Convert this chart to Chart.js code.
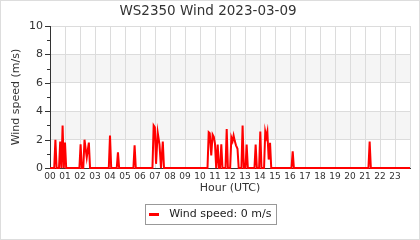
<!DOCTYPE html>
<html>
<head>
<meta charset="utf-8">
<script src="https://cdn.jsdelivr.net/npm/chart.js@4/dist/chart.umd.min.js"></script>
<style>
  html, body { margin: 0; padding: 0; background: #fff; }
  #wrap { width: 420px; height: 240px; }
</style>
</head>
<body>
<div id="wrap"><canvas id="myChart" width="420" height="240"></canvas></div>
<script>
// wind samples (decimal hour UTC) and speeds in m/s
const hours = [
  0, 0.28, 0.36, 0.44, 0.6, 0.68, 0.76, 0.84, 0.92, 1.0, 1.08,
  1.96, 2.04, 2.12, 2.22, 2.3, 2.37, 2.45, 2.59, 2.67,
  3.92, 4.0, 4.08,
  4.45, 4.53, 4.61,
  5.56, 5.64, 5.72,
  6.83, 6.91, 6.99, 7.07, 7.18, 7.3, 7.4, 7.52, 7.6,
  10.5, 10.58, 10.65, 10.75, 10.84, 10.92, 11.0, 11.08, 11.18, 11.26, 11.34, 11.42, 11.5,
  11.7, 11.78, 11.86, 12.01, 12.09, 12.17, 12.24, 12.32, 12.4, 12.5, 12.58,
  12.76, 12.84, 12.92, 13.03, 13.11, 13.19,
  13.63, 13.71, 13.79, 13.94, 14.02, 14.1, 14.27, 14.35, 14.42, 14.49, 14.58, 14.67, 14.75,
  16.1, 16.18, 16.26,
  21.23, 21.31, 21.39,
  24
];
const speeds = [
  0, 0, 2.0, 0, 0, 1.87, 0, 3.0, 0, 1.8, 0,
  0, 1.67, 0, 0, 2.0, 1.4, 0.75, 1.8, 0,
  0, 2.29, 0,
  0, 1.11, 0,
  0, 1.6, 0,
  0, 3.0, 2.87, 0.3, 2.5, 1.67, 0, 1.87, 0,
  0, 2.52, 2.45, 0.9, 2.36, 2.2, 1.7, 0, 1.65, 0, 0, 1.67, 0,
  0, 2.75, 0, 0, 2.15, 1.9, 2.29, 1.9, 1.6, 1.36, 0,
  0, 3.0, 0, 0, 1.65, 0,
  0, 1.65, 0, 0, 2.57, 0, 0, 2.57, 2.2, 2.57, 0.6, 1.78, 0,
  0, 1.18, 0,
  0, 1.87, 0,
  0
];
const hourLabels = ['00','01','02','03','04','05','06','07','08','09','10','11',
                    '12','13','14','15','16','17','18','19','20','21','22','23'];
const yTicks = [0, 2, 4, 6, 8, 10];
const shadedBands = [[2, 4], [6, 8]];
const seriesLabel = 'Wind speed: 0 m/s';

const textColor = '#333';
const gridColor = '#dcdcdc';

// small red dash used as legend marker
const marker = document.createElement('canvas');
marker.width = 10; marker.height = 3;
const mctx = marker.getContext('2d');
mctx.fillStyle = '#ff0000';
mctx.fillRect(0, 0, 10, 3);

const decor = {
  id: 'decor',
  beforeDraw(chart) {
    const c = chart.ctx, a = chart.chartArea, y = chart.scales.y;
    c.save();
    c.fillStyle = '#fff';
    c.fillRect(0, 0, chart.width, chart.height);
    c.fillStyle = '#f5f5f5';
    shadedBands.forEach(b => {
      const top = y.getPixelForValue(b[1]), bot = y.getPixelForValue(b[0]);
      c.fillRect(a.left, top, a.right - a.left, bot - top);
    });
    c.restore();
  },
  afterDraw(chart) {
    const c = chart.ctx, y = chart.scales.y, a = chart.chartArea;
    c.save();
    c.strokeStyle = '#333';
    c.lineWidth = 1;
    for (let v = 0; v <= 10; v++) {
      const py = Math.round(y.getPixelForValue(v)) + 0.5;
      const len = v % 2 === 0 ? 5 : 3;
      c.beginPath();
      c.moveTo(a.left - len, py);
      c.lineTo(a.left, py);
      c.stroke();
    }
    // legend frame
    const hb = chart.legend.legendHitBoxes[0];
    if (hb) {
      const cy = hb.top + hb.height / 2;
      c.strokeStyle = '#999';
      c.strokeRect(Math.round(hb.left) + 0.5, Math.round(cy) - 10.5, Math.round(hb.width) + 4, 20);
    }
    // outer frame
    c.strokeStyle = '#ddd';
    c.strokeRect(0.5, 0.5, chart.width - 1, chart.height - 1);
    c.restore();
  }
};

new Chart(document.getElementById('myChart'), {
  type: 'line',
  data: {
    datasets: [{
      label: seriesLabel,
      data: hours.map((h, i) => ({ x: h, y: speeds[i] })),
      borderColor: '#ff0000',
      backgroundColor: '#ff0000',
      borderWidth: 2,
      pointRadius: 0,
      tension: 0,
      fill: false,
      clip: false
    }]
  },
  options: {
    responsive: false,
    animation: false,
    events: [],
    layout: { padding: { left: 6, right: 10, top: 0, bottom: 10 } },
    font: { family: 'DejaVu Sans' },
    plugins: {
      title: {
        display: true,
        text: 'WS2350 Wind 2023-03-09',
        color: textColor,
        font: { family: 'DejaVu Sans', size: 13.5, weight: 'normal' },
        padding: { top: 3.5, bottom: 6.3 }
      },
      legend: {
        position: 'bottom',
        labels: {
          color: '#222',
          font: { family: 'DejaVu Sans', size: 11 },
          padding: 10,
          usePointStyle: true,
          pointStyle: marker,
          pointStyleWidth: 19,
          boxHeight: 3
        }
      },
      tooltip: { enabled: false }
    },
    scales: {
      x: {
        type: 'linear',
        min: 0,
        max: 24,
        afterFit: s => { s.height = 30.9; },
        ticks: {
          stepSize: 1,
          autoSkip: false,
          maxRotation: 0,
          padding: 3,
          color: textColor,
          font: { family: 'DejaVu Sans', size: 9 },
          callback: v => hourLabels[v] ?? ''
        },
        grid: { color: gridColor, drawTicks: false },
        border: { color: '#333' },
        title: {
          display: true,
          text: 'Hour (UTC)',
          color: textColor,
          font: { family: 'DejaVu Sans', size: 11 },
          padding: { top: 0, bottom: 4 }
        }
      },
      y: {
        min: 0,
        max: 10,
        afterFit: s => { s.width = 44; },
        ticks: {
          stepSize: 1,
          padding: 7,
          color: textColor,
          font: { family: 'DejaVu Sans', size: 11 },
          callback: v => yTicks.includes(v) ? String(v) : ''
        },
        grid: {
          drawTicks: false,
          color: c => (c.tick && yTicks.includes(c.tick.value)) ? gridColor : 'rgba(0,0,0,0)'
        },
        border: { color: '#333' },
        title: {
          display: true,
          text: 'Wind speed (m/s)',
          color: textColor,
          font: { family: 'DejaVu Sans', size: 11 },
          padding: { top: 3.4, bottom: 0 }
        }
      }
    }
  },
  plugins: [decor]
});
</script>
</body>
</html>
